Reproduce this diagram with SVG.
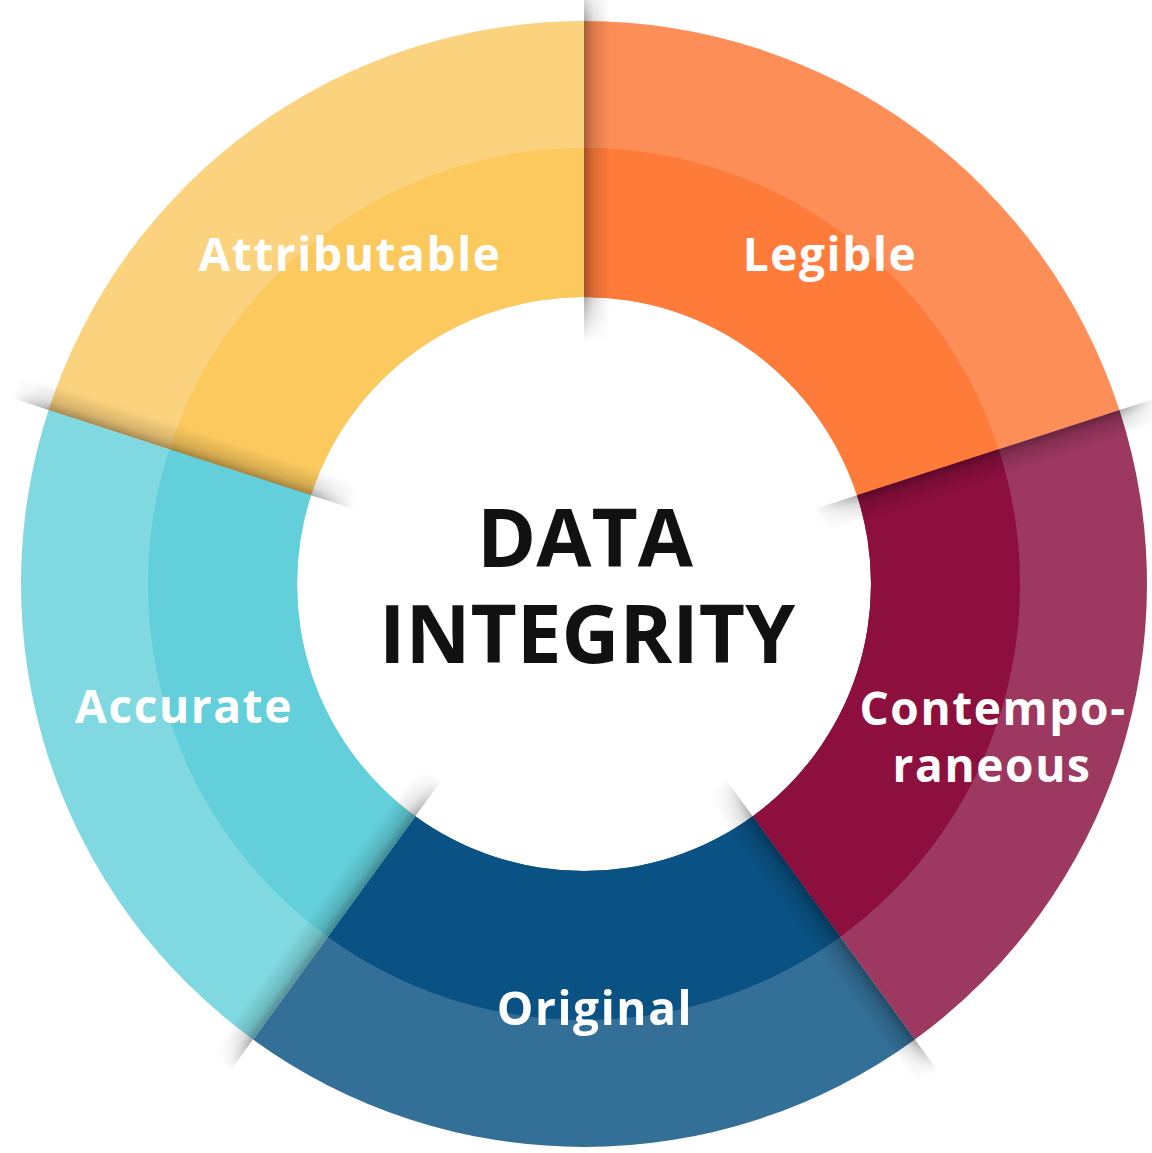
<svg xmlns="http://www.w3.org/2000/svg" width="1152" height="1153" viewBox="0 0 1152 1153">
  <defs>
    <style>
      .lbl { font-family: "Open Sans", "Liberation Sans", sans-serif; font-weight: 700; font-size: 46px; fill: #ffffff; text-anchor: middle; letter-spacing: 1.6px; }
      .title { font-family: "Open Sans", "Liberation Sans", sans-serif; font-weight: 700; font-size: 80px; fill: #111111; text-anchor: middle; }
    </style>
    <linearGradient id="sh" x1="0" y1="0" x2="0" y2="1">
      <stop offset="0" stop-color="#000" stop-opacity="0.34"/>
      <stop offset="0.35" stop-color="#000" stop-opacity="0.14"/>
      <stop offset="1" stop-color="#000" stop-opacity="0"/>
    </linearGradient>
    <radialGradient id="fade" gradientUnits="userSpaceOnUse" cx="584" cy="584" r="620">
      <stop offset="0.39" stop-color="#000"/>
      <stop offset="0.463" stop-color="#fff"/>
      <stop offset="0.908" stop-color="#fff"/>
      <stop offset="0.97" stop-color="#000"/>
    </radialGradient>
    <mask id="shmask" maskUnits="userSpaceOnUse" x="0" y="0" width="1152" height="1153">
      <rect x="0" y="0" width="1152" height="1153" fill="url(#fade)"/>
    </mask>
  </defs>
  <rect x="0" y="0" width="1152" height="1153" fill="#ffffff"/>

  <g id="attributable">
    <path d="M 48.56 410.02 A 563 563 0 0 1 584 21 L 584 297 A 287 287 0 0 0 311.05 495.31 Z" fill="#FBD27E"/>
    <path d="M 169.34 449.27 A 436 436 0 0 1 584 148 L 584 297 A 287 287 0 0 0 311.05 495.31 Z" fill="#FBC95E"/>
    <text class="lbl" x="350" y="271">Attributable</text>
  </g>
  <g id="legible">
    <path d="M 584 21 A 563 563 0 0 1 1119.44 410.02 L 856.95 495.31 A 287 287 0 0 0 584 297 Z" fill="#FE8E58"/>
    <path d="M 584 148 A 436 436 0 0 1 998.66 449.27 L 856.95 495.31 A 287 287 0 0 0 584 297 Z" fill="#FE7B3A"/>
    <text class="lbl" x="830" y="271">Legible</text>
  </g>
  <g id="contemporaneous">
    <path d="M 1119.44 410.02 A 563 563 0 0 1 914.92 1039.48 L 752.69 816.19 A 287 287 0 0 0 856.95 495.31 Z" fill="#9D3860"/>
    <path d="M 998.66 449.27 A 436 436 0 0 1 840.27 936.73 L 752.69 816.19 A 287 287 0 0 0 856.95 495.31 Z" fill="#8C0F3E"/>
    <text class="lbl" x="993" y="725">Contempo-</text>
    <text class="lbl" x="992" y="782">raneous</text>
  </g>
  <g id="original">
    <path d="M 914.92 1039.48 A 563 563 0 0 1 253.08 1039.48 L 415.31 816.19 A 287 287 0 0 0 752.69 816.19 Z" fill="#346F97"/>
    <path d="M 840.27 936.73 A 436 436 0 0 1 327.73 936.73 L 415.31 816.19 A 287 287 0 0 0 752.69 816.19 Z" fill="#0A5283"/>
  </g>
  <g id="accurate">
    <path d="M 253.08 1039.48 A 563 563 0 0 1 48.56 410.02 L 311.05 495.31 A 287 287 0 0 0 415.31 816.19 Z" fill="#80D8E0"/>
    <path d="M 327.73 936.73 A 436 436 0 0 1 169.34 449.27 L 311.05 495.31 A 287 287 0 0 0 415.31 816.19 Z" fill="#62CFDA"/>
    <text class="lbl" x="184" y="723">Accurate</text>
  </g>

  <g id="connectors" mask="url(#shmask)">
    <rect x="824" y="584" width="380" height="26" fill="url(#sh)" transform="rotate(-90 584 584)"/>
    <rect x="824" y="584" width="380" height="26" fill="url(#sh)" transform="rotate(-18 584 584)"/>
    <rect x="824" y="584" width="380" height="26" fill="url(#sh)" transform="rotate(54 584 584)"/>
    <rect x="824" y="584" width="380" height="26" fill="url(#sh)" transform="rotate(126 584 584)"/>
    <rect x="824" y="584" width="380" height="26" fill="url(#sh)" transform="rotate(198 584 584)"/>
  </g>

  <g id="original-label">
    <text class="lbl" x="595" y="1025">Original</text>
  </g>

  <g id="center">
    <text class="title" x="585" y="567">DATA</text>
    <text class="title" x="587" y="663">INTEGRITY</text>
  </g>
</svg>
